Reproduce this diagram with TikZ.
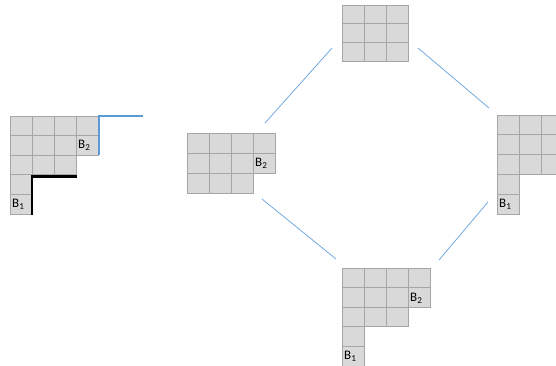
\documentclass[tikz,border=0pt]{standalone}
\usepackage{fontspec}
\setmainfont{Carlito}
\usepackage{xcolor}
\definecolor{cellgray}{HTML}{D9D9D9}
\definecolor{edgegray}{HTML}{A6A6A6}
\definecolor{lineblue}{HTML}{5B9BD5}
\definecolor{linkblue}{HTML}{72AAE0}

\begin{document}
\begin{tikzpicture}[x=1pt,y=-1pt,
    cell/.style={fill=cellgray,draw=edgegray,line width=1pt},
    lbl/.style={inner sep=0pt,anchor=west,font=\fontsize{13}{15}\selectfont},
    link/.style={draw=linkblue,line width=0.8pt}]
\useasboundingbox (0,0) rectangle (556,365);

% Left diagram with the two borders
\foreach \r/\n in {0/4,1/4,2/3,3/1,4/1} {
    \foreach \c in {1,...,\n}
        \draw[cell] ({10+22*(\c-1)},{116+19.6*\r}) rectangle ++(22,19.6);
}
\node[lbl] (leftb2) at (78,145) {B\textsubscript{2}};
\node[lbl] (leftb1) at (12,204) {B\textsubscript{1}};
\draw[lineblue,line width=2pt] (143,116) -- (98.5,116) -- (98.5,155);
\draw[black,line width=2.5pt] (77,176.5) -- (32,176.5) -- (32,215);

% Top: 3x3 square
\foreach \r in {0,1,2} {
    \foreach \c in {1,2,3}
        \draw[cell] ({342+22*(\c-1)},{5+18.7*\r}) rectangle ++(22,18.7);
}

% Middle left: B2 only
\foreach \r/\n in {0/4,1/4,2/3} {
    \foreach \c in {1,...,\n}
        \draw[cell] ({187+22*(\c-1)},{133+20*\r}) rectangle ++(22,20);
}
\node[lbl] (midb2) at (255,163) {B\textsubscript{2}};

% Right: B1 only
\foreach \r/\n in {0/3,1/3,2/3,3/1,4/1} {
    \foreach \c in {1,...,\n}
        \draw[cell] ({497+22*(\c-1)},{115+19.8*\r}) rectangle ++(22,19.8);
}
\node[lbl] (rightb1) at (499,204) {B\textsubscript{1}};

% Bottom: both
\foreach \r/\n in {0/4,1/4,2/3,3/1,4/1} {
    \foreach \c in {1,...,\n}
        \draw[cell] ({342+22*(\c-1)},{268+19.6*\r}) rectangle ++(22,19.6);
}
\node[lbl] (botb2) at (410,298) {B\textsubscript{2}};
\node[lbl] (botb1) at (344,356) {B\textsubscript{1}};

% Links
\coordinate (topw) at (332,48);
\coordinate (tope) at (418,48);
\coordinate (midn) at (265,123);
\coordinate (mids) at (262,199);
\coordinate (rightn) at (489,108);
\coordinate (rights) at (488,202);
\coordinate (botw) at (336,259);
\coordinate (bote) at (439,260);
\draw[link] (midn) -- (topw);
\draw[link] (tope) -- (rightn);
\draw[link] (mids) -- (botw);
\draw[link] (bote) -- (rights);
\end{tikzpicture}
\end{document}
